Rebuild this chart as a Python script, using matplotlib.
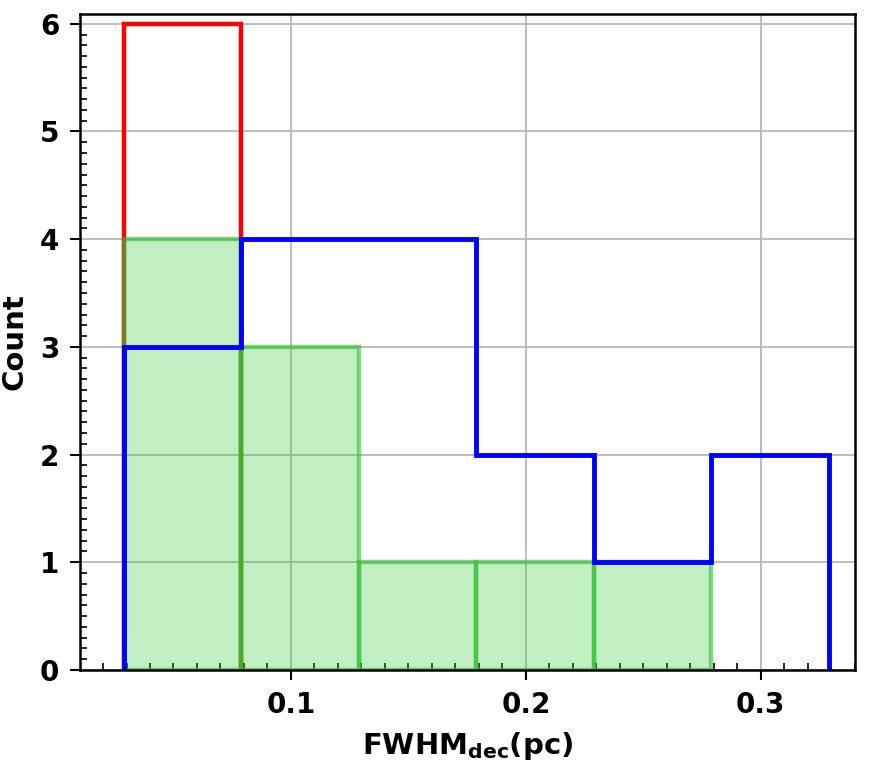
import numpy as np
import matplotlib
matplotlib.use("Agg")
import matplotlib.pyplot as plt
from matplotlib.ticker import MultipleLocator

bin_edges = [0.0289, 0.0789, 0.1289, 0.1789, 0.2289, 0.2789, 0.3289]
red_counts = [6, 0, 0, 0, 0, 0]
green_counts = [4, 3, 1, 1, 1, 0]
blue_counts = [3, 4, 4, 2, 1, 2]
xlabel = r"FWHM$_{\mathbf{dec}}$(pc)"
ylabel = "Count"

plt.rcParams['font.family'] = ['DejaVu Sans']
plt.rcParams['font.weight'] = 'bold'
plt.rcParams['mathtext.default'] = 'bf'

fig = plt.figure(figsize=(8.82, 7.67), dpi=100)
ax = fig.add_axes([0.0907, 0.1265, 0.8783, 0.8552])

edges = np.array(bin_edges)


def trimmed(counts):
    c = np.array(counts, dtype=float)
    n = int(np.nonzero(c)[0].max()) + 1
    e = edges[:n + 1]
    return (e[:-1] + e[1:]) / 2, e, c[:n]


xc, e, w = trimmed(red_counts)
ax.hist(xc, bins=e, weights=w, histtype='step',
        color='#ff0000', linewidth=3.2, zorder=2)
xc, e, w = trimmed(green_counts)
ax.hist(xc, bins=e, weights=w, histtype='bar',
        facecolor=(0.196, 0.804, 0.196, 0.3), edgecolor=(0.2, 0.75, 0.2, 0.6),
        linewidth=3.2, zorder=3)
xc, e, w = trimmed(blue_counts)
ax.hist(xc, bins=e, weights=w, histtype='step',
        color='#0000ff', linewidth=3.5, zorder=4)

ax.set_xlim(0.0102, 0.340)
ax.set_ylim(0, 6.09)
ax.set_axisbelow(True)
ax.grid(True, color='#b8b8b8', linewidth=1.3)

ax.xaxis.set_major_locator(MultipleLocator(0.1))
ax.xaxis.set_minor_locator(MultipleLocator(0.01))
ax.yaxis.set_major_locator(MultipleLocator(1))
ax.yaxis.set_minor_locator(MultipleLocator(0.1))
ax.tick_params(which='major', direction='out', length=7, width=1.5,
               labelsize=20, pad=8)
ax.tick_params(which='minor', direction='in', length=5, width=1.2)
for lab in ax.get_xticklabels() + ax.get_yticklabels():
    lab.set_fontweight('bold')
for s in ax.spines.values():
    s.set_linewidth(1.8)
    s.set_zorder(6)

ax.set_xlabel(xlabel, fontsize=21, fontweight='bold', labelpad=8)
ax.set_ylabel(ylabel, fontsize=21, fontweight='bold')
ax.yaxis.set_label_coords(-0.066, 0.5)

fig.savefig("out.png", dpi=100)
